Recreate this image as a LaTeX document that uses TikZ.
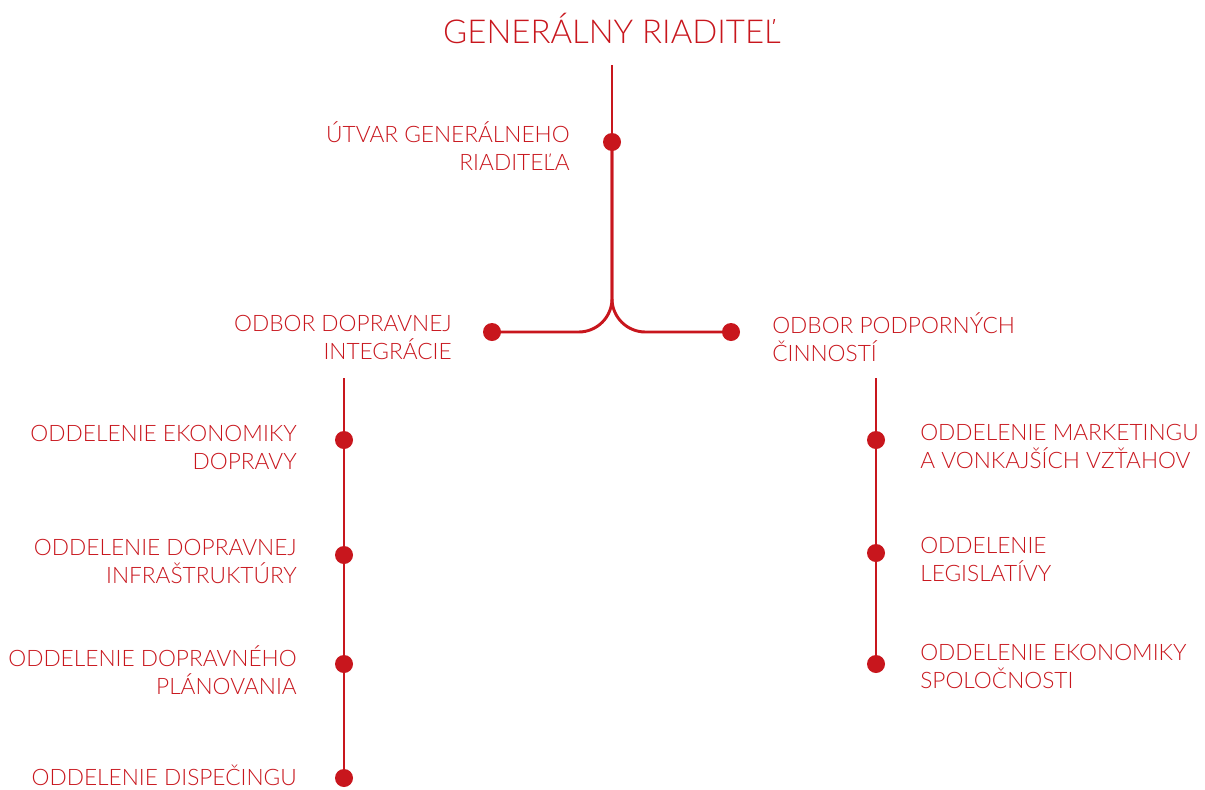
\documentclass[tikz,border=0pt]{standalone}
\usepackage{fontspec}
\setmainfont{Lato Light}
\usetikzlibrary{positioning}
\definecolor{dpbred}{HTML}{C8161D}

\tikzset{
  line/.style={draw=dpbred, line width=2.2pt},
  dot/.style={circle, fill=dpbred, inner sep=0pt, minimum size=13.5pt},
  lbl/.style={text=dpbred, font=\fontsize{17}{21}\selectfont, inner sep=0pt},
  lblR/.style={lbl, anchor=east, align=right},
  lblL/.style={lbl, anchor=west, align=left}
}

\begin{document}
\begin{tikzpicture}[x=0.75pt, y=-0.75pt]
    \useasboundingbox (0,0) rectangle (1205,789);

    % Title
    \node[text=dpbred, font=\fontsize{24.7}{30}\selectfont, inner sep=0pt] (gr) at (612,28) {GENERÁLNY RIADITEĽ};
    \coordinate (trunk) at (612,65);

    % Utvar
    \node[dot] (ug) at (612,142) {};
    \node[lblR] (ugt) at (570,146) {ÚTVAR GENERÁLNEHO\\RIADITEĽA};

    % Odbory
    \node[dot] (odi) at (492,332) {};
    \node[lblR] (odit) at (452,337) {ODBOR DOPRAVNEJ\\INTEGRÁCIE};
    \node[dot] (opc) at (731,332) {};
    \node[lblL] (opct) at (772,337) {ODBOR PODPORNÝCH\\ČINNOSTÍ};

    \draw[line] (trunk) -- (ug.center);
    \draw[line, rounded corners=25pt] (ug.center) |- (odi.center);
    \draw[line, rounded corners=25pt] (ug.center) |- (opc.center);

    % Left column
    \coordinate (lcol) at (344,378);
    \node[dot] (oed) at (344,440) {};
    \node[lblR] (oedt) at (297,447) {ODDELENIE EKONOMIKY\\DOPRAVY};
    \node[dot] (odin) at (344,555) {};
    \node[lblR] (odint) at (297,561) {ODDELENIE DOPRAVNEJ\\INFRAŠTRUKTÚRY};
    \node[dot] (odp) at (344,664) {};
    \node[lblR] (odpt) at (297,670) {ODDELENIE DOPRAVNÉHO\\PLÁNOVANIA};
    \node[dot] (odis) at (344,778) {};
    \node[lblR] (odist) at (297,775) {ODDELENIE DISPEČINGU};

    \draw[line] (lcol) -- (oed.center) -- (odin.center) -- (odp.center) -- (odis.center);

    % Right column
    \coordinate (rcol) at (876,378);
    \node[dot] (omv) at (876,440) {};
    \node[lblL] (omvt) at (920,446) {ODDELENIE MARKETINGU\\A VONKAJŠÍCH VZŤAHOV};
    \node[dot] (ol) at (876,553) {};
    \node[lblL] (olt) at (920,559) {ODDELENIE\\LEGISLATÍVY};
    \node[dot] (oes) at (876,664) {};
    \node[lblL] (oest) at (920,666) {ODDELENIE EKONOMIKY\\SPOLOČNOSTI};

    \draw[line] (rcol) -- (omv.center) -- (ol.center) -- (oes.center);
\end{tikzpicture}
\end{document}
